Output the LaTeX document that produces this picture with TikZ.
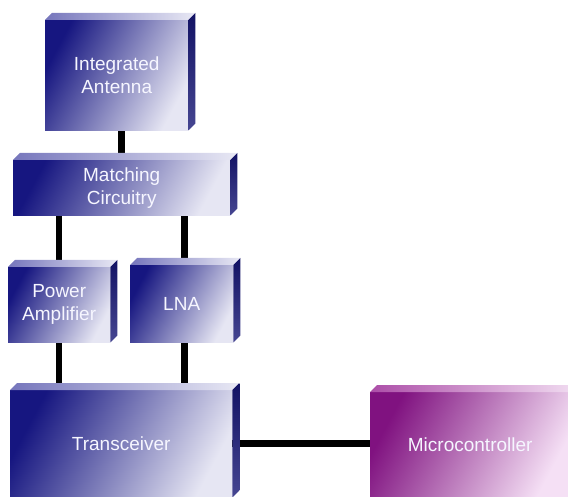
\documentclass[tikz,border=0pt]{standalone}
\usepackage{fontspec}
\setmainfont{Liberation Sans}
\usetikzlibrary{backgrounds}
\definecolor{bluedark}{RGB}{22,22,128}
\definecolor{bluemid}{RGB}{98,98,176}
\definecolor{bluelight}{RGB}{230,230,243}
\definecolor{bluetopl}{RGB}{118,118,188}
\definecolor{bluetopr}{RGB}{232,232,244}
\definecolor{bluesidet}{RGB}{18,18,100}
\definecolor{bluesideb}{RGB}{70,70,145}
\definecolor{purpdark}{RGB}{128,18,128}
\definecolor{purpmid}{RGB}{182,96,178}
\definecolor{purplight}{RGB}{245,224,245}
\definecolor{purptopl}{RGB}{172,78,168}
\definecolor{purptopr}{RGB}{242,222,242}
\definecolor{textwhite}{RGB}{246,246,255}
\begin{document}
\begin{tikzpicture}[x=1pt,y=-1pt,
  bluebox/.style={shade,top color=bluedark,middle color=bluemid,bottom color=bluelight,
    shading angle=62,inner sep=0pt,anchor=north west,text=textwhite,align=center,
    font=\fontsize{19}{23}\selectfont},
  purpbox/.style={bluebox,top color=purpdark,middle color=purpmid,bottom color=purplight,
    shading angle=62},
  link/.style={line width=6.5pt,black}]
\clip (0,0) rectangle (568,497);

% front faces
\node[bluebox,minimum width=143pt,minimum height=110pt] (ant) at (45,20) {Integrated\\Antenna};
\node[bluebox,minimum width=217pt,minimum height=55pt] (match) at (13,160) {Matching\\Circuitry};
\node[bluebox,minimum width=102pt,minimum height=75pt] (pa) at (8,267) {Power\\Amplifier};
\node[bluebox,minimum width=103pt,minimum height=77pt] (lna) at (130,265) {LNA};
\node[bluebox,minimum width=222pt,minimum height=107pt] (trx) at (10,390) {Transceiver};
\node[purpbox,minimum width=200pt,minimum height=105pt] (mcu) at (370,392) {Microcontroller};

% top and right faces
\foreach \n in {ant,match,pa,lna,trx} {
  \shade[left color=bluetopl,right color=bluetopr]
    (\n.north west) -- ++(7pt,7pt) -- ([shift={(7pt,7pt)}]\n.north east) -- (\n.north east) -- cycle;
  \shade[top color=bluesidet,bottom color=bluesideb]
    (\n.north east) -- ++(7pt,7pt) -- ([shift={(7pt,7pt)}]\n.south east) -- (\n.south east) -- cycle;
}
\shade[left color=purptopl,right color=purptopr]
  (mcu.north west) -- ++(7pt,7pt) -- ([shift={(7pt,7pt)}]mcu.north east) -- (mcu.north east) -- cycle;

% connections
\begin{pgfonlayer}{background}
\draw[link] ([xshift=5pt]ant.south) -- ([xshift=5pt]ant.south |- match.north);
\draw[link] (pa.north |- match.south) -- (pa.north);
\draw[link] ([xshift=3pt]lna.north |- match.south) -- ([xshift=3pt]lna.north);
\draw[link] (pa.south) -- (pa.south |- trx.north);
\draw[link] ([xshift=3pt]lna.south) -- ([xshift=3pt]lna.south |- trx.north);
\draw[link] (trx.east) -- (trx.east -| mcu.west);
\end{pgfonlayer}
\end{tikzpicture}
\end{document}
